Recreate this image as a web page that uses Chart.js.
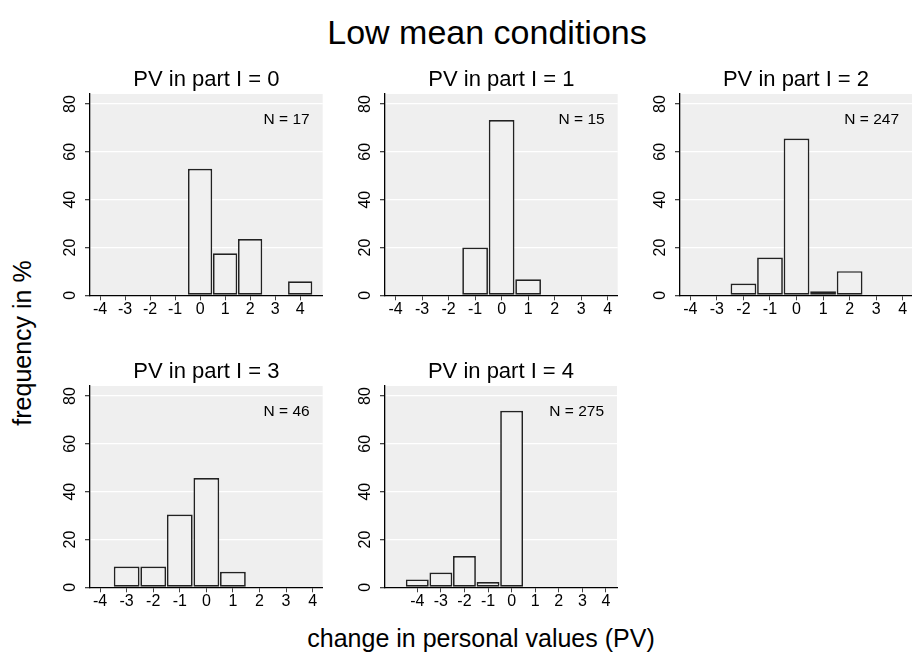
<!DOCTYPE html>
<html lang="en">
<head>
    <meta charset="UTF-8" />
    <title>Low mean conditions</title>
    <script src="https://cdn.jsdelivr.net/npm/chart.js"></script>
    <style>
        body {
            margin: 0;
            background: #fff;
            font-family: 'Liberation Sans', Arial, sans-serif;
            color: #000;
        }
        #page {
            position: relative;
            width: 912px;
            height: 666px;
            overflow: hidden;
        }
        canvas {
            position: absolute;
        }
        .label {
            position: absolute;
            white-space: nowrap;
        }
        #mainTitle {
            left: 487px;
            top: 15px;
            font-size: 34px;
            line-height: 34px;
            transform: translateX(-50%);
        }
        #xTitle {
            left: 481px;
            top: 626px;
            font-size: 25px;
            line-height: 25px;
            transform: translateX(-50%);
        }
        #yTitle {
            left: 22px;
            top: 343px;
            font-size: 25px;
            line-height: 25px;
            transform: translate(-50%, -50%) rotate(-90deg);
        }
    </style>
</head>
<body>
<div id="page">
    <div class="label" id="mainTitle">Low mean conditions</div>
    <div class="label" id="yTitle">frequency in %</div>
    <div class="label" id="xTitle">change in personal values (PV)</div>

    <canvas id="p0" width="290" height="260" style="left:40px;top:60px"></canvas>
    <canvas id="p1" width="290" height="260" style="left:335px;top:60px"></canvas>
    <canvas id="p2" width="282" height="260" style="left:630px;top:60px"></canvas>
    <canvas id="p3" width="290" height="260" style="left:40px;top:352px"></canvas>
    <canvas id="p4" width="290" height="260" style="left:335px;top:352px"></canvas>
</div>

<script>
    // tick labels
    const xTicks = [-4, -3, -2, -1, 0, 1, 2, 3, 4];
    const yTicks = [0, 20, 40, 60, 80];

    // panel titles and sample sizes
    const panelTitles = ['PV in part I = 0', 'PV in part I = 1', 'PV in part I = 2', 'PV in part I = 3', 'PV in part I = 4'];
    const nObs = [17, 15, 247, 46, 275];

    // change in PV (bins) and frequency in % for each panel
    const binsPart0 = [0, 1, 2, 4];
    const freqPart0 = [52.9, 17.6, 23.5, 5.9];

    const binsPart1 = [-1, 0, 1];
    const freqPart1 = [20.0, 73.3, 6.7];

    const binsPart2 = [-2, -1, 0, 1, 2];
    const freqPart2 = [4.9, 15.8, 65.6, 1.7, 10.1];

    const binsPart3 = [-3, -2, -1, 0, 1];
    const freqPart3 = [8.7, 8.7, 30.4, 45.7, 6.5];

    const binsPart4 = [-4, -3, -2, -1, 0];
    const freqPart4 = [3.3, 6.2, 13.1, 2.2, 73.8];

    const FONT = "'Liberation Sans', Arial, sans-serif";

    // draws the grey plot region, panel title and N label
    const panelDecor = {
        id: 'panelDecor',
        beforeDraw(chart) {
            const a = chart.chartArea;
            const c = chart.ctx;
            c.save();
            c.fillStyle = '#efefef';
            c.fillRect(a.left, a.top, a.right - a.left, a.bottom - a.top);
            c.restore();
        },
        afterDraw(chart, args, opts) {
            const a = chart.chartArea;
            const c = chart.ctx;
            c.save();
            c.fillStyle = '#000';
            c.textBaseline = 'alphabetic';
            c.font = '22px ' + FONT;
            c.textAlign = 'center';
            c.fillText(opts.title, (a.left + a.right) / 2, a.top - 8.5);
            c.font = '15.5px ' + FONT;
            c.textAlign = 'right';
            c.fillText('N = ' + opts.n, a.right - 13, a.top + 29.5);
            c.restore();
        }
    };

    function makePanel(id, bins, freq, idx, xMin, xMax, rightPad) {
        const ctx = document.getElementById(id).getContext('2d');
        return new Chart(ctx, {
            type: 'bar',
            data: {
                datasets: [{
                    data: bins.map((b, i) => ({ x: b, y: freq[i] })),
                    backgroundColor: '#f0f0f0',
                    borderColor: '#222',
                    borderWidth: 1.7,
                    borderSkipped: false,
                    barPercentage: 0.97,
                    categoryPercentage: 1
                }]
            },
            options: {
                responsive: false,
                animation: false,
                layout: { padding: { top: 34, right: rightPad, left: 0, bottom: 0 } },
                plugins: {
                    legend: { display: false },
                    tooltip: { enabled: false },
                    panelDecor: { title: panelTitles[idx], n: nObs[idx] }
                },
                scales: {
                    x: {
                        type: 'linear',
                        offset: false,
                        min: xMin,
                        max: xMax,
                        afterBuildTicks: s => { s.ticks = xTicks.map(v => ({ value: v })); },
                        afterFit: s => { s.height = 24.7; },
                        grid: {
                            offset: false,
                            drawOnChartArea: false,
                            drawTicks: true,
                            tickLength: 5,
                            tickColor: '#444'
                        },
                        border: { color: '#000', width: 1.3 },
                        ticks: {
                            color: '#000',
                            font: { family: FONT, size: 16 },
                            padding: 0,
                            maxRotation: 0,
                            autoSkip: false
                        }
                    },
                    y: {
                        min: 0,
                        max: 84.2,
                        afterBuildTicks: s => { s.ticks = yTicks.map(v => ({ value: v })); },
                        afterFit: s => { s.width = 50; },
                        grid: {
                            color: c => (c.tick && c.tick.value === 0) ? 'rgba(0,0,0,0)' : '#ffffff',
                            lineWidth: 1.3,
                            drawTicks: true,
                            tickLength: 5,
                            tickColor: '#444'
                        },
                        border: { color: '#000', width: 1.3 },
                        ticks: {
                            color: '#000',
                            font: { family: FONT, size: 16 },
                            padding: 6,
                            minRotation: 90,
                            maxRotation: 90,
                            crossAlign: 'center',
                            autoSkip: false
                        }
                    }
                }
            },
            plugins: [panelDecor]
        });
    }

    makePanel('p0', binsPart0, freqPart0, 0, -4.4, 4.9, 7.3);
    makePanel('p1', binsPart1, freqPart1, 1, -4.4, 4.38, 7.3);
    makePanel('p2', binsPart2, freqPart2, 2, -4.39, 4.35, 0);
    makePanel('p3', binsPart3, freqPart3, 3, -4.38, 4.38, 7.3);
    makePanel('p4', binsPart4, freqPart4, 4, -5.37, 4.47, 8);
</script>
</body>
</html>
